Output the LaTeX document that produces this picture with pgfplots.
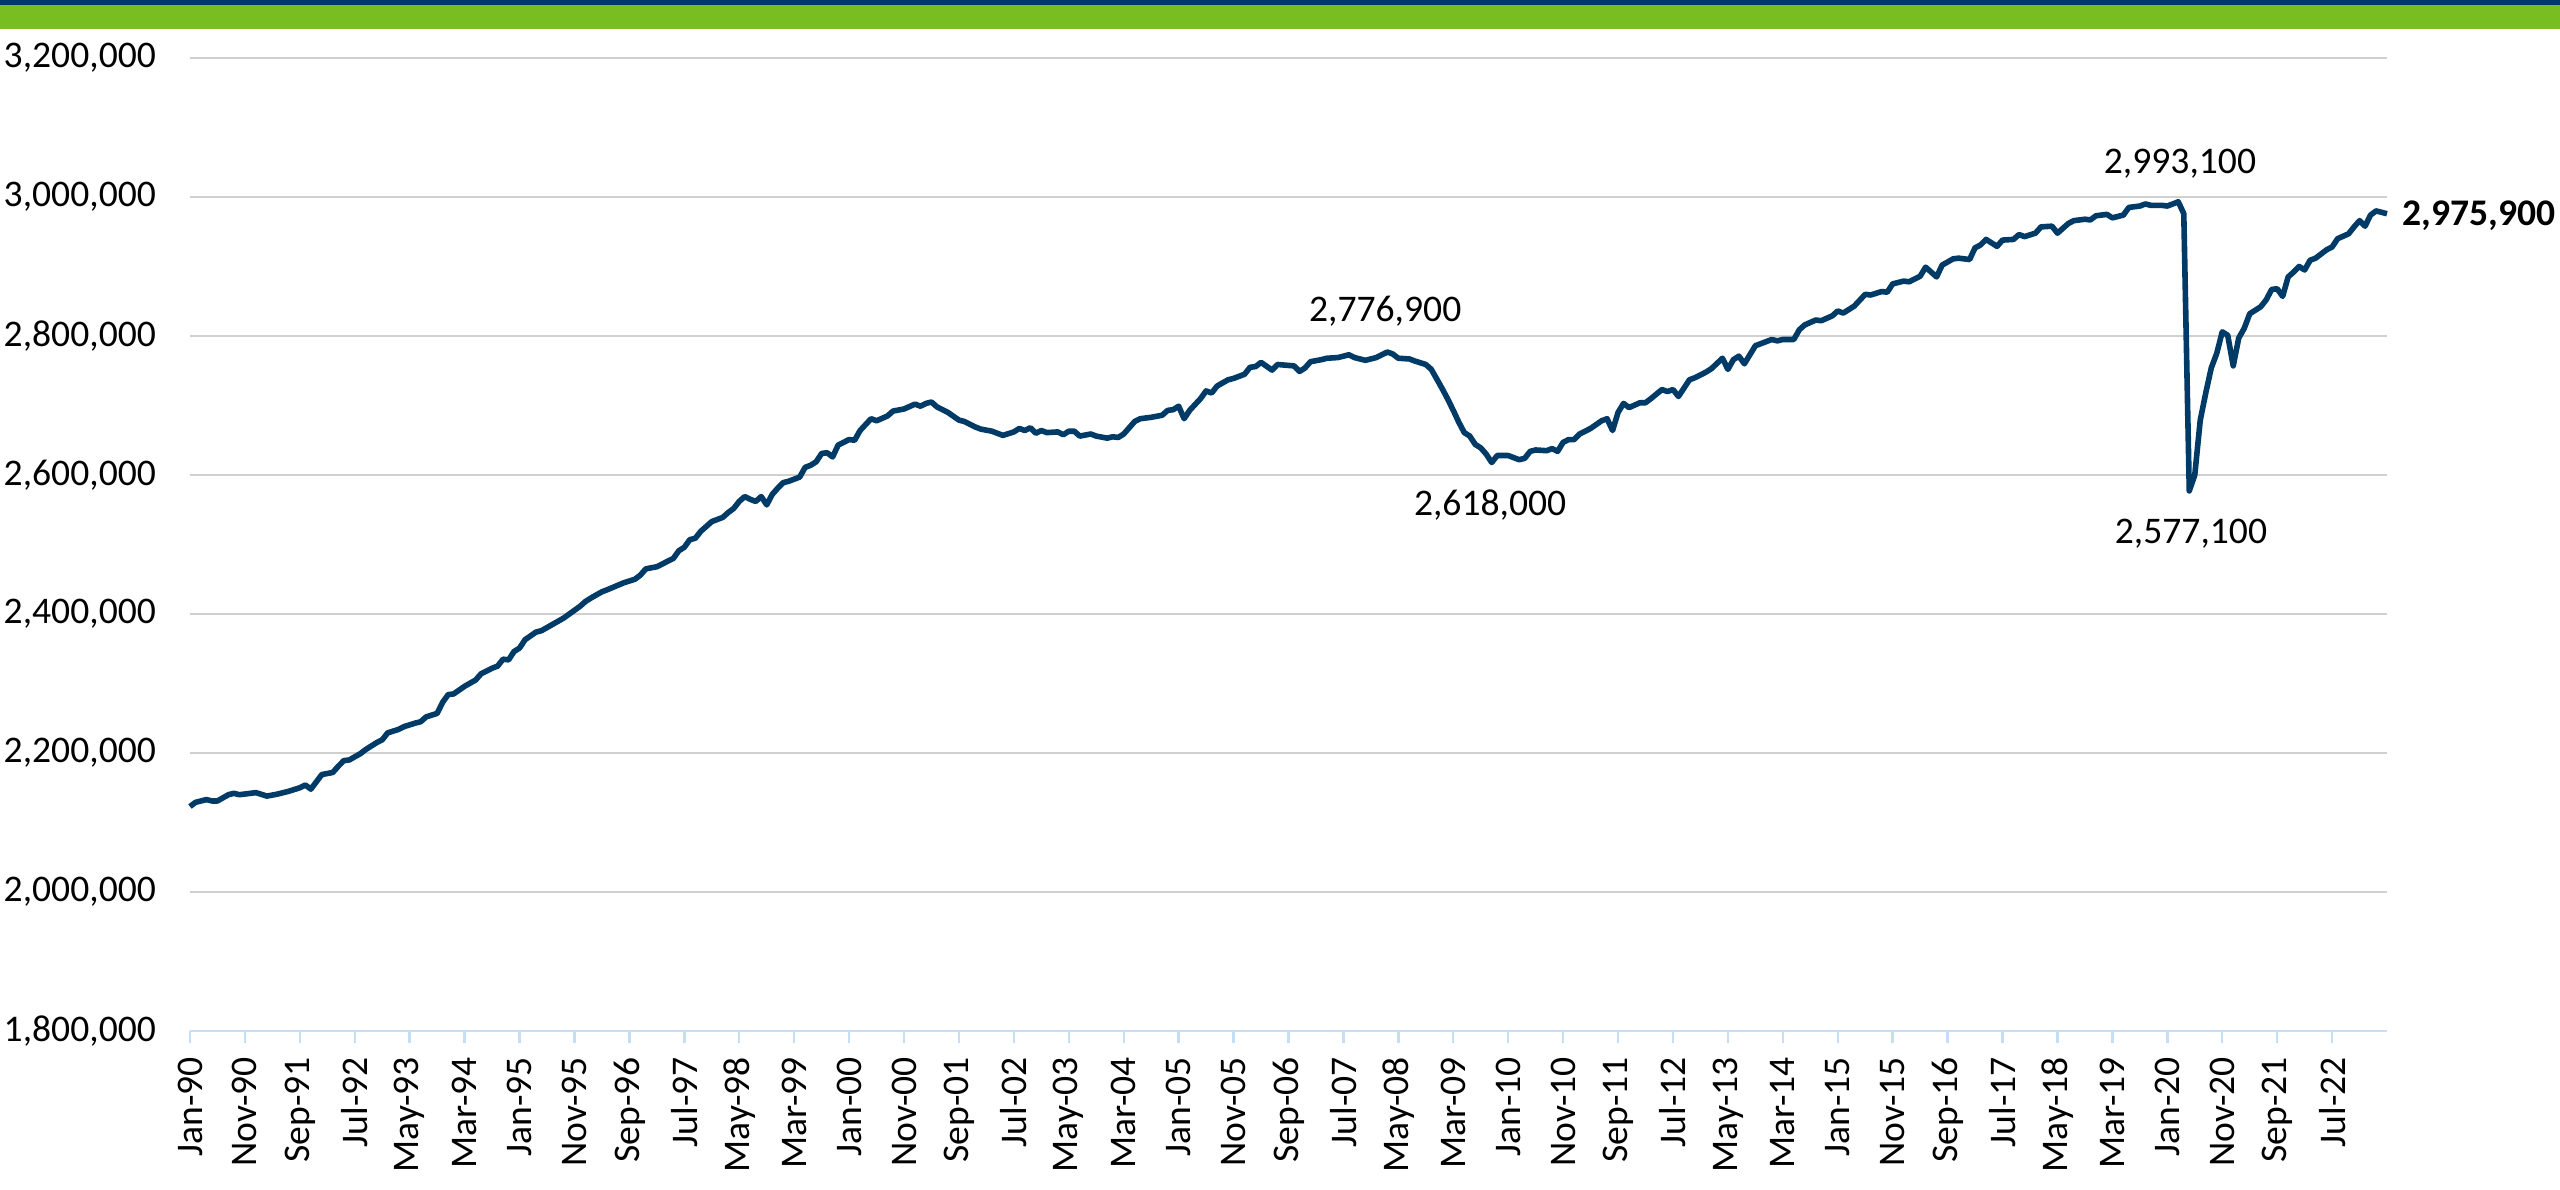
\documentclass[border=0pt]{standalone}
\usepackage{fontspec}
\setmainfont{Carlito}
\usepackage{pgfplots}
\pgfplotsset{compat=1.18}
\usepackage{pgfplotstable}

\definecolor{navy}{HTML}{003A66}
\definecolor{bandgreen}{HTML}{78BE20}
\definecolor{gridgray}{HTML}{D0D0D0}
\definecolor{axisblue}{HTML}{C5DDF5}

% month index (0 = Jan-90) and employment level
\pgfplotstableread{
m v
0 2123000
1 2129000
2 2131000
3 2133000
4 2131000
5 2131000
7 2140000
8 2142000
9 2140000
11 2142000
12 2143000
14 2138000
16 2141000
18 2145000
20 2150000
21 2154000
22 2148000
24 2169000
26 2172000
27 2181000
28 2189000
29 2190000
31 2199000
32 2205000
34 2215000
35 2219000
36 2229000
38 2234000
39 2238000
41 2243000
42 2245000
43 2252000
45 2257000
46 2273000
47 2284000
48 2285000
50 2296000
52 2305000
53 2314000
55 2322000
56 2325000
57 2335000
58 2334000
59 2346000
60 2351000
61 2363000
63 2374000
64 2376000
66 2385000
68 2394000
71 2411000
72 2418000
73 2423000
75 2432000
76 2435000
79 2445000
81 2450000
82 2456000
83 2465000
85 2468000
87 2476000
88 2480000
89 2491000
90 2496000
91 2507000
92 2509000
93 2519000
95 2533000
97 2539000
98 2546000
99 2552000
100 2562000
101 2569000
102 2565000
103 2562000
104 2569000
105 2557000
106 2572000
107 2581000
108 2589000
109 2591000
111 2597000
112 2611000
113 2614000
114 2619000
115 2631000
116 2632000
117 2626000
118 2643000
120 2651000
121 2650000
122 2664000
124 2681000
125 2678000
127 2685000
128 2692000
130 2695000
132 2702000
133 2699000
134 2703000
135 2705000
136 2698000
138 2690000
140 2679000
141 2677000
143 2669000
144 2666000
146 2663000
148 2657000
150 2662000
151 2667000
152 2664000
153 2668000
154 2660000
155 2664000
156 2661000
158 2662000
159 2658000
160 2663000
161 2663000
162 2656000
164 2659000
165 2656000
167 2653000
168 2655000
169 2654000
170 2659000
172 2677000
173 2681000
175 2683000
177 2686000
178 2693000
179 2694000
180 2699000
181 2681000
182 2693000
184 2710000
185 2721000
186 2718000
187 2728000
189 2737000
190 2739000
192 2745000
193 2755000
194 2756000
195 2762000
197 2751000
198 2759000
201 2757000
202 2749000
203 2754000
204 2763000
206 2766000
207 2768000
209 2769000
211 2773000
212 2769000
214 2765000
216 2769000
218 2776900
219 2774000
220 2768000
222 2767000
223 2764000
225 2759000
226 2752000
227 2738000
228 2724000
229 2709000
230 2693000
231 2676000
232 2661000
233 2656000
234 2644000
235 2639000
236 2630000
237 2618000
238 2628000
240 2628000
242 2622000
243 2624000
244 2634000
245 2636000
247 2635000
248 2638000
249 2634000
250 2647000
251 2651000
252 2651000
253 2659000
255 2667000
257 2678000
258 2681000
259 2664000
260 2690000
261 2703000
262 2697000
264 2704000
265 2704000
266 2710000
268 2723000
269 2720000
270 2723000
271 2713000
273 2737000
274 2740000
276 2748000
277 2753000
279 2768000
280 2752000
281 2766000
282 2771000
283 2760000
285 2786000
287 2792000
288 2795000
289 2793000
290 2795000
292 2795000
293 2809000
294 2816000
296 2823000
297 2822000
299 2829000
300 2836000
301 2833000
303 2843000
305 2860000
306 2859000
308 2864000
309 2863000
310 2875000
312 2879000
313 2878000
315 2886000
316 2899000
318 2885000
319 2902000
321 2911000
322 2912000
324 2910000
325 2927000
326 2931000
327 2939000
329 2929000
330 2938000
332 2939000
333 2946000
334 2943000
336 2948000
337 2957000
339 2958000
340 2948000
342 2962000
343 2966000
345 2968000
346 2967000
347 2973000
349 2975000
350 2970000
352 2974000
353 2985000
355 2987000
356 2990000
357 2988000
359 2988000
360 2987000
361 2990000
362 2993100
363 2976000
364 2577100
365 2600000
366 2679000
367 2718000
368 2754000
369 2775000
370 2806000
371 2801000
372 2757000
373 2797000
374 2811000
375 2832000
377 2842000
378 2852000
379 2867000
380 2868000
381 2857000
382 2885000
383 2892000
384 2900000
385 2895000
386 2909000
387 2912000
389 2924000
390 2928000
391 2940000
393 2947000
394 2957000
395 2966000
396 2958000
397 2974000
398 2980000
399 2978000
400 2975900
}\emp

\begin{document}
\begin{tikzpicture}[font=\fontsize{9.4}{11}\selectfont]
\useasboundingbox (-47.5pt,-39.5pt) rectangle (592.5pt,257.75pt);
\fill[bandgreen] (-47.5pt,250.5pt) rectangle (592.5pt,256.5pt);
\fill[navy] (-47.5pt,256.5pt) rectangle (592.5pt,257.75pt);
\begin{axis}[
  at={(0pt,0pt)}, anchor=south west,
  scale only axis, width=549.25pt, height=243.25pt,
  xmin=0, xmax=400, ymin=1800000, ymax=3200000,
  axis x line*=bottom, axis y line*=left,
  x axis line style={draw=axisblue, line width=0.6pt},
  y axis line style={draw=none},
  xtick={0,10,...,390},
  xticklabels={Jan-90,Nov-90,Sep-91,Jul-92,May-93,Mar-94,Jan-95,Nov-95,Sep-96,Jul-97,
    May-98,Mar-99,Jan-00,Nov-00,Sep-01,Jul-02,May-03,Mar-04,Jan-05,Nov-05,
    Sep-06,Jul-07,May-08,Mar-09,Jan-10,Nov-10,Sep-11,Jul-12,May-13,Mar-14,
    Jan-15,Nov-15,Sep-16,Jul-17,May-18,Mar-19,Jan-20,Nov-20,Sep-21,Jul-22},
  xticklabel style={rotate=90, anchor=east},
  ytick={1800000,2000000,...,3200000},
  scaled y ticks=false,
  yticklabel style={/pgf/number format/fixed, /pgf/number format/1000 sep={,},
    /pgf/number format/assume math mode=true, xshift=-2pt},
  tick align=outside, major tick length=3pt,
  xtick style={draw=axisblue, line width=0.6pt},
  ytick style={draw=none},
  ymajorgrids, grid style={gridgray, line width=0.5pt},
  clip=false,
]
\addplot[navy, line width=1.4pt, line join=round] table[x=m, y=v] {\emp};
\node at (axis cs:217.6,2835000) {2,776,900};
\node at (axis cs:236.7,2557300) {2,618,000};
\node at (axis cs:362.3,3048600) {2,993,100};
\node at (axis cs:364.3,2515600) {2,577,100};
\node[anchor=west, font=\fontsize{9.4}{11}\selectfont\bfseries, inner sep=0pt] at (axis cs:402.7,2972400) {2,975,900};
\end{axis}
\end{tikzpicture}
\end{document}
